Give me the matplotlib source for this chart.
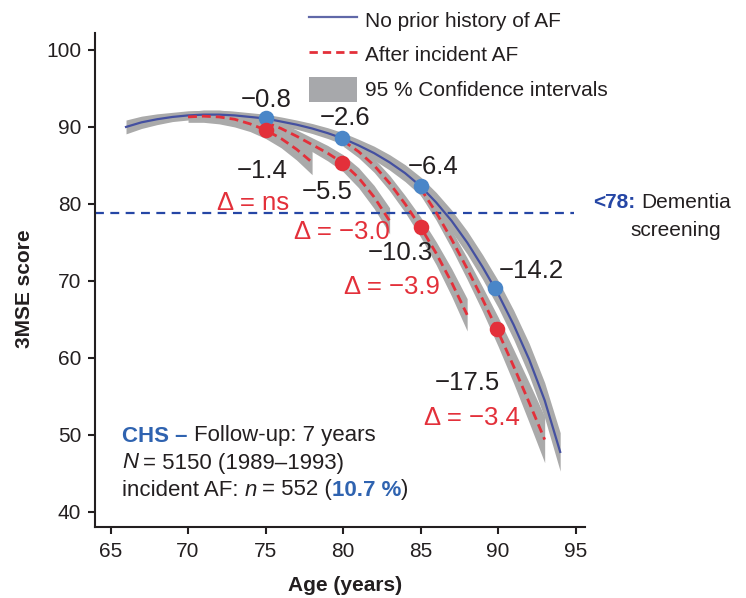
import matplotlib
matplotlib.use("Agg")
import matplotlib.pyplot as plt
from matplotlib.lines import Line2D
from matplotlib.patches import Patch
import numpy as np

# ---------------- data ----------------
blue_age = [66, 67, 68, 69, 70, 71, 72, 73, 74, 75, 76, 77, 78, 79, 80,
            81, 82, 83, 84, 85, 86, 87, 88, 89, 90, 91, 92, 93, 94]
blue_score = [90.0, 90.6, 91.0, 91.3, 91.5, 91.6, 91.6, 91.5, 91.3, 91.1,
              90.7, 90.3, 89.8, 89.2, 88.5, 87.6, 86.6, 85.4, 84.0, 82.3,
              80.2, 77.8, 75.0, 71.8, 68.3, 64.3, 59.8, 54.5, 47.8]
blue_ci = [0.9, 0.8, 0.7, 0.6, 0.6, 0.55, 0.55, 0.55, 0.55, 0.55,
           0.6, 0.6, 0.65, 0.7, 0.75, 0.8, 0.9, 1.0, 1.1, 1.2,
           1.3, 1.4, 1.5, 1.6, 1.75, 1.9, 2.1, 2.3, 2.5]

seg1_age = [70, 71, 72, 73, 74, 75, 76, 77, 78]
seg1_score = [91.3, 91.4, 91.3, 91.0, 90.4, 89.6, 88.5, 87.1, 85.4]
seg1_ci = [0.7, 0.8, 0.9, 1.0, 1.0, 1.1, 1.2, 1.4, 1.6]

seg2_age = [75, 76, 77, 78, 79, 80, 81, 82, 83]
seg2_score = [90.6, 89.8, 88.8, 87.7, 86.6, 85.3, 83.4, 80.9, 77.8]
seg2_ci = [0.6, 0.7, 0.8, 0.9, 1.0, 1.1, 1.3, 1.5, 1.7]

seg3_age = [80, 81, 82, 83, 84, 85, 86, 87, 88]
seg3_score = [88.2, 86.8, 85.0, 82.7, 80.0, 77.0, 73.6, 69.8, 65.6]
seg3_ci = [0.7, 0.8, 0.9, 1.0, 1.1, 1.3, 1.5, 1.8, 2.1]

seg4_age = [85, 86, 87, 88, 89, 90, 91, 92, 93]
seg4_score = [82.0, 78.9, 75.4, 71.6, 67.6, 63.4, 58.9, 54.2, 49.4]
seg4_ci = [0.9, 1.0, 1.2, 1.4, 1.6, 1.9, 2.2, 2.6, 3.0]

blue_dot_age = [75, 79.9, 85, 89.8]
blue_dot_score = [91.2, 88.6, 82.3, 69.1]
red_dot_age = [75, 79.9, 85, 89.9]
red_dot_score = [89.6, 85.3, 77.0, 63.7]

blue_change = ["\u22120.8", "\u22122.6", "\u22126.4", "\u221214.2"]
red_change = ["\u22121.4", "\u22125.5", "\u221210.3", "\u221217.5"]
delta_labels = ["\u0394 = ns", "\u0394 = \u22123.0", "\u0394 = \u22123.9", "\u0394 = \u22123.4"]

dementia_cutoff = 78.8

x_ticks = [65, 70, 75, 80, 85, 90, 95]
y_ticks = [40, 50, 60, 70, 80, 90, 100]

# ---------------- style ----------------
W, H = 746, 598
plt.rcParams['font.family'] = ['Liberation Sans', 'DejaVu Sans']
BLACK = '#231f20'
BLUE_LINE = '#4450a0'
RED = '#e3303a'
BLUE_DOT = '#4a86c8'
BLUE_TXT = '#2f63b0'
GRAY = '#aaaaaa'

fig = plt.figure(figsize=(W / 100, H / 100), dpi=100)
ax = fig.add_axes([95 / W, (H - 527) / H, 490 / W, 494 / H])
ax.set_xlim(64.0, 95.6)
ax.set_ylim(38.05, 102.2)

# bands
ax.fill_between(blue_age, np.array(blue_score) - np.array(blue_ci),
                np.array(blue_score) + np.array(blue_ci), color=GRAY, lw=0, zorder=1)
for a, s, c in [(seg1_age, seg1_score, seg1_ci), (seg2_age, seg2_score, seg2_ci),
                (seg3_age, seg3_score, seg3_ci), (seg4_age, seg4_score, seg4_ci)]:
    ax.fill_between(a, np.array(s) - np.array(c), np.array(s) + np.array(c),
                    color=GRAY, lw=0, zorder=1)

# dementia line
ax.axhline(dementia_cutoff, xmin=0, xmax=(94.9 - 64.0) / (95.6 - 64.0),
           color='#2546a5', lw=1.6, dashes=(4, 2.9), zorder=2.5)

# lines
ax.plot(blue_age, blue_score, color=BLUE_LINE, lw=1.6, zorder=3)
for a, s in [(seg1_age, seg1_score), (seg2_age, seg2_score),
             (seg3_age, seg3_score), (seg4_age, seg4_score)]:
    ax.plot(a, s, color=RED, lw=2.0, dashes=(3.2, 1.8), zorder=3)

# dots
ax.scatter(blue_dot_age, blue_dot_score, s=125, color=BLUE_DOT, zorder=5, lw=0)
ax.scatter(red_dot_age, red_dot_score, s=125, color=RED, zorder=5, lw=0)

# annotations (positions in data coords)
blue_pos = [(75.03, 93.5), (80.13, 91.2), (85.8, 84.8), (92.13, 71.3)]
red_pos = [(74.77, 84.3), (78.97, 81.6), (83.68, 73.6), (88.0, 56.8)]
delta_pos = [(74.19, 80.1), (79.94, 76.4), (83.16, 69.2), (88.32, 52.2)]
for t, p in zip(blue_change, blue_pos):
    ax.text(p[0], p[1], t, fontsize=18.5, color=BLACK, ha='center', va='center', zorder=6)
for t, p in zip(red_change, red_pos):
    ax.text(p[0], p[1], t, fontsize=18.5, color=BLACK, ha='center', va='center', zorder=6)
for t, p in zip(delta_labels, delta_pos):
    ax.text(p[0], p[1], t, fontsize=18.5, color=RED, ha='center', va='center', zorder=6)

# axes styling
for sp in ['top', 'right']:
    ax.spines[sp].set_visible(False)
for sp in ['left', 'bottom']:
    ax.spines[sp].set_linewidth(1.5)
    ax.spines[sp].set_color(BLACK)
ax.set_xticks(x_ticks)
ax.set_yticks(y_ticks)
ax.tick_params(axis='both', direction='out', length=5, width=1.5, colors=BLACK,
               labelsize=15, pad=5)
ax.tick_params(axis='x', pad=6)
ax.set_xlabel('Age (years)', fontsize=15, fontweight='bold', color=BLACK)
ax.xaxis.set_label_coords((345 - 95) / 490, (527 - 576) / 494)
ax.set_ylabel('3MSE score', fontsize=15, fontweight='bold', color=BLACK)
ax.yaxis.set_label_coords((34 - 95) / 490, (527 - 289) / 494)

# legend
handles = [Line2D([], [], color='#6068a8', lw=1.6),
           Line2D([], [], color=RED, lw=2.0, dashes=(3, 1.8)),
           Patch(facecolor='#a7a8ab', edgecolor='none')]
labels = ['No prior history of AF', 'After incident AF', '95 % Confidence intervals']
leg = ax.legend(handles, labels, loc='upper left', bbox_to_anchor=(309 / W, 1 - 7 / H),
                bbox_transform=fig.transFigure, frameon=False, fontsize=15,
                handlelength=2.3, handleheight=1.5, labelspacing=0.45,
                handletextpad=0.4, borderpad=0, borderaxespad=0)
for t in leg.get_texts():
    t.set_color(BLACK)

# rich text helper
renderer = fig.canvas.get_renderer()


def rich(x_px, y_px, pieces, size):
    x = x_px
    for s, kw, gap in pieces:
        t = fig.text(x / W, 1 - y_px / H, s, fontsize=size, ha='left', va='center', **kw)
        bb = t.get_window_extent(renderer)
        x += bb.width + gap * size * 100 / 72


rich(122, 436, [("CHS \u2013", dict(color=BLUE_TXT, fontweight='bold'), 0.28),
                ("Follow-up: 7 years", dict(color=BLACK), 0)], 16)
rich(122, 463, [("N", dict(color=BLACK, fontstyle='italic'), 0.22),
                ("= 5150 (1989\u20131993)", dict(color=BLACK), 0)], 16)
rich(122, 490, [("incident AF:", dict(color=BLACK), 0.28),
                ("n", dict(color=BLACK, fontstyle='italic'), 0.22),
                ("= 552 (", dict(color=BLACK), 0.0),
                ("10.7 %", dict(color=BLUE_TXT, fontweight='bold'), 0.0),
                (")", dict(color=BLACK), 0)], 16)

rich(593, 202, [("<78:", dict(color='#2546a5', fontweight='bold'), 0.28),
                ("Dementia", dict(color=BLACK), 0)], 15)
fig.text(676 / W, 1 - 230 / H, "screening", fontsize=15, color=BLACK, ha='center', va='center')

fig.savefig('out.png', dpi=100)
